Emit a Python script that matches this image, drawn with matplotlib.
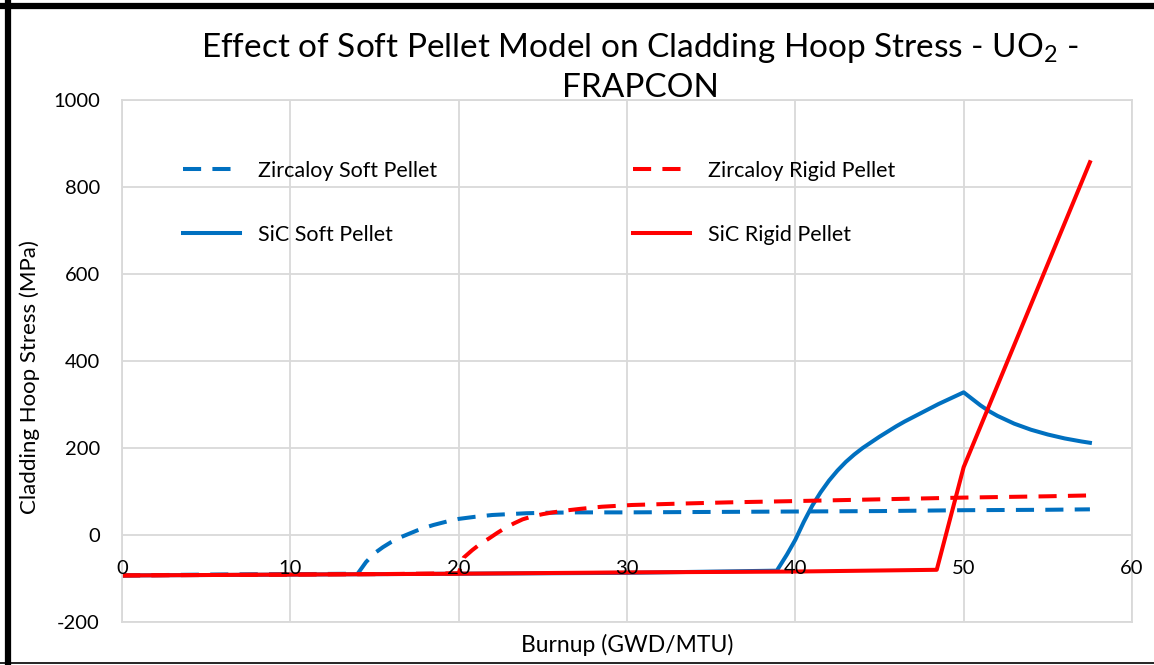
import matplotlib
matplotlib.use("Agg")
import matplotlib.pyplot as plt
from matplotlib.lines import Line2D
import matplotlib.transforms as mtransforms

plt.rcParams['font.family'] = ['Lato', 'DejaVu Sans']
plt.rcParams['mathtext.default'] = 'regular'
plt.rcParams['axes.unicode_minus'] = False

BLUE = '#0070C0'
RED = '#FF0000'

# Zircaloy, soft pellet model
zr_soft_x = [0, 5, 10, 14, 14.5, 15, 15.5, 16, 16.5, 17, 17.5, 18, 18.5, 19, 19.5, 20, 21, 22, 23, 24, 25,
             27, 30, 35, 40, 45, 50, 55, 57.5]
zr_soft_y = [-93, -91, -90, -89, -62, -42, -28, -16, -6, 2, 10, 17, 23, 28, 33, 37, 42, 46, 48, 50, 51,
             52, 52, 53, 54, 55, 57, 58, 59]

# Zircaloy, rigid pellet model
zr_rigid_x = [0, 5, 10, 15, 20, 20.3, 20.8, 21.3, 21.8, 22.3, 22.8, 23.3, 23.8, 24.4, 25, 25.6, 26.3, 27.2,
              28.5, 30.3, 33, 36, 40, 45, 50, 55, 57.5]
zr_rigid_y = [-93, -92, -91, -90, -88, -52, -35, -20, -8, 5, 17, 27, 36, 43, 48, 52, 56, 60,
              65, 69, 72, 75, 78, 82, 86, 89, 91]

# SiC, soft pellet model
sic_soft_x = [0, 10, 20, 30, 38.9, 39.5, 40, 40.5, 41, 41.5, 42, 42.5, 43, 43.5, 44, 44.5, 45, 45.5, 46,
              46.5, 47, 47.5, 48, 48.5, 49, 49.5, 50, 50.5, 51, 51.5, 52, 53, 54, 55, 56, 57, 57.5]
sic_soft_y = [-93, -91, -89, -87, -82, -45, -11, 30, 67, 98, 125, 148, 168, 185, 200, 213, 226, 238, 250,
              261, 271, 281, 291, 301, 310, 319, 328, 313, 298, 285, 274, 256, 242, 231, 222, 215, 212]

# SiC, rigid pellet model
sic_rigid_x = [0, 10, 20, 30, 40, 48.4, 50, 57.5]
sic_rigid_y = [-93, -91, -89, -86, -84, -80, 156, 857]

x_ticks = [0, 10, 20, 30, 40, 50, 60]
y_ticks = [-200, 0, 200, 400, 600, 800, 1000]

W, H = 1154, 665
fig = plt.figure(figsize=(W / 100, H / 100), dpi=100)
ax = fig.add_axes([122 / W, 1 - 622 / H, (1132 - 122) / W, (622 - 100) / H])

dash = (4.5, 2.8)
ax.plot(zr_soft_x, zr_soft_y, color=BLUE, lw=2.9, dashes=dash, label='Zircaloy Soft Pellet')
ax.plot(sic_soft_x, sic_soft_y, color=BLUE, lw=2.9, label='SiC Soft Pellet')
ax.plot(zr_rigid_x, zr_rigid_y, color=RED, lw=2.9, dashes=dash, label='Zircaloy Rigid Pellet')
ax.plot(sic_rigid_x, sic_rigid_y, color=RED, lw=2.9, label='SiC Rigid Pellet')

ax.set_xlim(0, 60)
ax.set_ylim(-200, 1000)
ax.set_xticks(x_ticks)
ax.set_yticks(y_ticks)
ax.grid(True, color='#D9D9D9', lw=1.3)
ax.set_axisbelow(True)
for s in ax.spines.values():
    s.set_color('#D9D9D9')
    s.set_linewidth(1.3)
ax.tick_params(length=0)
ax.tick_params(axis='y', labelsize=14.5, pad=16)
ax.set_xticklabels([])

# x tick labels sit inside the plot, just above the curves
trans = mtransforms.blended_transform_factory(ax.transData, ax.transAxes)
for xv in x_ticks:
    ax.text(xv, 0.092, str(xv), transform=trans, ha='center', va='baseline', fontsize=14.5)

leg = ax.legend(ncol=2, loc='upper left', frameon=False, fontsize=15.5,
                bbox_to_anchor=(183 / W, 1 - 161 / H), bbox_transform=fig.transFigure,
                handlelength=2.65, handletextpad=0.84, labelspacing=2.04, columnspacing=9.1,
                borderpad=0, borderaxespad=0)

fig.text(640 / W, 1 - 67 / H,
         'Effect of Soft Pellet Model on Cladding Hoop Stress - UO$_2$ -\nFRAPCON',
         ha='center', va='center', fontsize=24, linespacing=1.33)
fig.text(627 / W, 1 - 645 / H, 'Burnup (GWD/MTU)', ha='center', va='center', fontsize=16.5)
fig.text(30 / W, 1 - 377 / H, 'Cladding Hoop Stress (MPa)', ha='center', va='center',
         rotation=90, fontsize=16)

# outer border of the original screenshot
fig.add_artist(Line2D([0, 1], [1 - 6 / H, 1 - 6 / H], transform=fig.transFigure, color='black', lw=4.5))
fig.add_artist(Line2D([8 / W, 8 / W], [0, 1], transform=fig.transFigure, color='black', lw=4.5))
fig.add_artist(Line2D([0, 1], [1 - 663 / H, 1 - 663 / H], transform=fig.transFigure, color='black', lw=1.2))

fig.savefig('out.png', dpi=100)
